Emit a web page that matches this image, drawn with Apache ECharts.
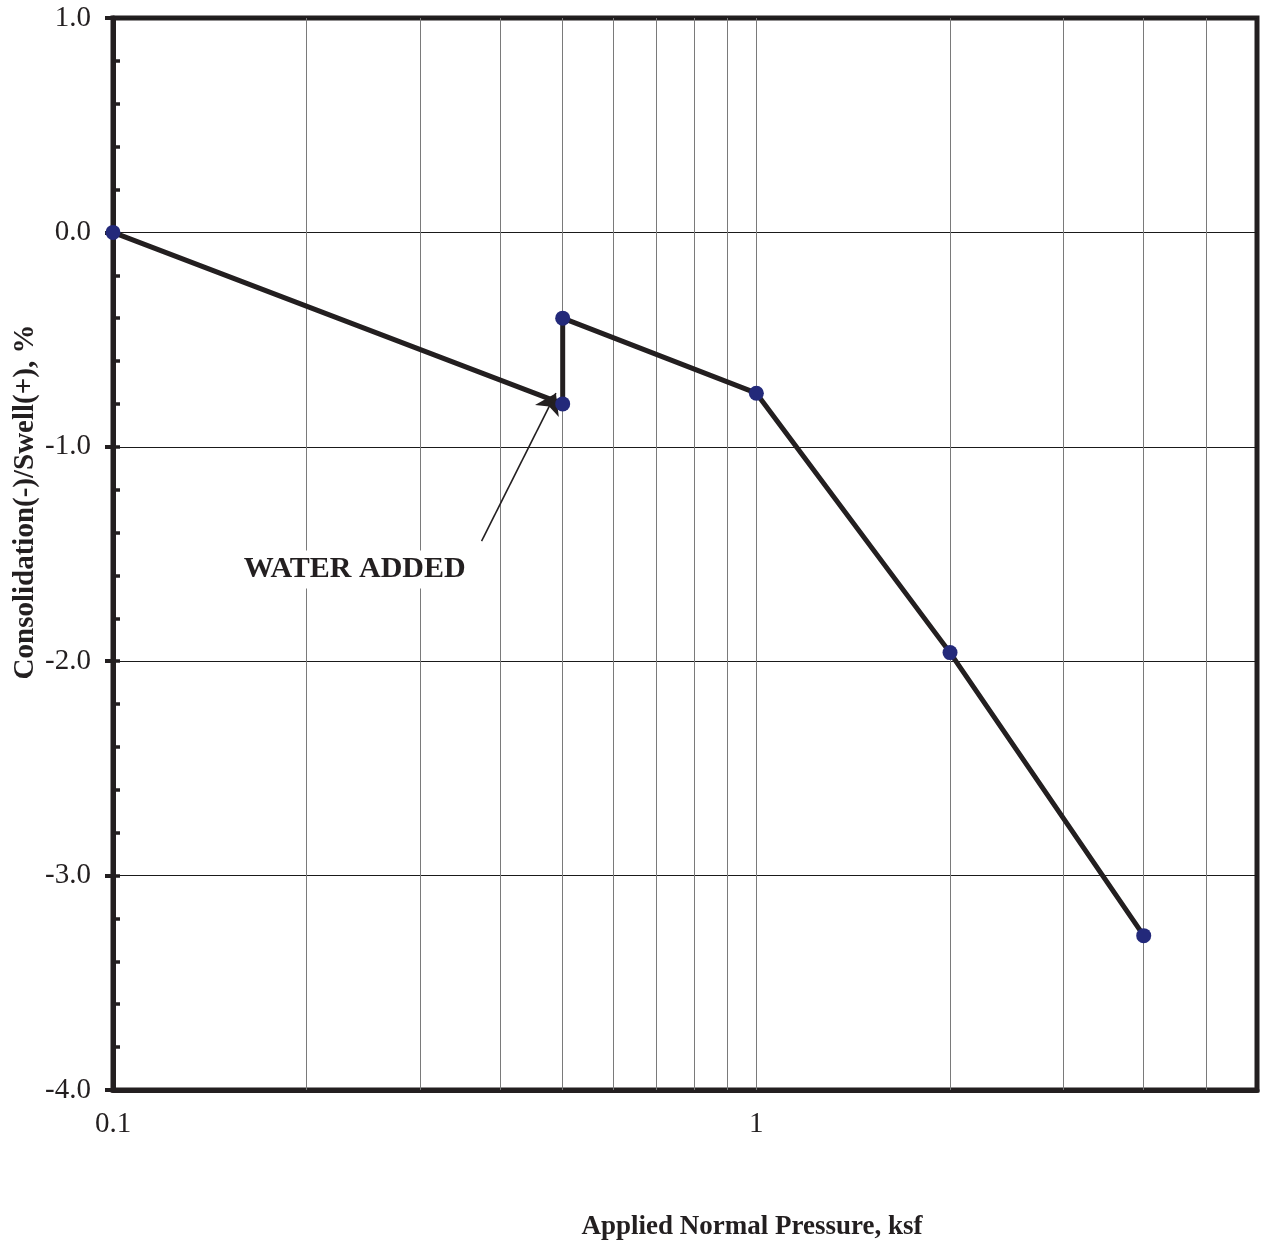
<!DOCTYPE html>
<html>
<head>
<meta charset="utf-8">
<script src="https://cdn.jsdelivr.net/npm/echarts@6/dist/echarts.min.js"></script>
<style>
  html, body { margin: 0; padding: 0; background: #fff; }
  #chart { width: 1262px; height: 1245px; }
</style>
</head>
<body>
<div id="chart"></div>
<script>
// Consolidation / swell test: applied pressure (ksf) vs. strain (%)
const pressure = [0.1, 0.5, 0.5, 1, 2, 4];
const strain = [0, -0.8, -0.4, -0.75, -1.96, -3.28];

// Log-scale grid lines between the labelled decades
const xGridValues = [0.2, 0.3, 0.4, 0.5, 0.6, 0.7, 0.8, 0.9, 1, 2, 3, 4, 5];
const xTickLabels = [0.1, 1];

// "Water added" note and its leader arrow (data units)
const noteText = 'WATER ADDED';
const notePos = [0.2375, -1.572];
const arrowFrom = [0.374, -1.44];
const arrowTo = [0.488, -0.75];

const ink = '#231f20';
const serif = '"Liberation Serif", "Times New Roman", serif';

const chart = echarts.init(document.getElementById('chart'), null, { renderer: 'canvas' });

chart.setOption({
  backgroundColor: '#ffffff',
  animation: false,
  grid: {
    left: 113, right: 5, top: 18, bottom: 155,
    show: true, borderColor: ink, borderWidth: 5, backgroundColor: 'transparent'
  },
  xAxis: {
    type: 'log', logBase: 10, min: 0.1, max: 6,
    axisLine: { show: true, onZero: false, lineStyle: { color: ink, width: 5 } },
    axisTick: { show: false },
    splitLine: { show: false },
    axisLabel: {
      margin: 20, color: ink, fontFamily: serif, fontSize: 29,
      formatter: v => {
        const hit = xTickLabels.find(t => Math.abs(t - v) < 1e-9);
        return hit === undefined ? '' : String(hit);
      }
    }
  },
  yAxis: [
    {
      type: 'value', min: -4, max: 1, interval: 1,
      axisLine: { show: true, lineStyle: { color: ink, width: 5 } },
      axisTick: { show: true, inside: false, length: 8, lineStyle: { color: ink, width: 4 } },
      splitLine: { show: true, lineStyle: { color: '#1a1a1a', width: 1 } },
      axisLabel: {
        margin: 22, color: ink, fontFamily: serif, fontSize: 29,
        formatter: v => v.toFixed(1)
      }
    },
    {
      // inner minor ticks every 0.2 %
      type: 'value', min: -4, max: 1, interval: 0.2, position: 'left',
      axisLine: { show: false },
      axisTick: { show: true, inside: true, length: 7, lineStyle: { color: ink, width: 3.5 } },
      splitLine: { show: false },
      axisLabel: { show: false }
    }
  ],
  graphic: [
    {
      type: 'text', x: 26, y: 502, rotation: Math.PI / 2,
      style: {
        text: 'Consolidation(-)/Swell(+), %',
        font: 'bold 29px ' + serif, fill: ink,
        align: 'center', verticalAlign: 'middle'
      }
    },
    {
      type: 'text', x: 752, y: 1227,
      style: {
        text: 'Applied Normal Pressure, ksf',
        font: 'bold 27px ' + serif, fill: ink,
        align: 'center', verticalAlign: 'middle'
      }
    }
  ],
  series: [
    {
      // vertical grid lines of the log axis
      type: 'line', data: [], z: 1, silent: true,
      markLine: {
        silent: true, symbol: 'none', animation: false,
        label: { show: false },
        lineStyle: { color: '#7a7a7a', width: 1, type: 'solid' },
        data: xGridValues.map(v => ({ xAxis: v }))
      }
    },
    {
      type: 'line', z: 5,
      data: pressure.map((p, i) => [p, strain[i]]),
      lineStyle: { color: ink, width: 5 },
      symbol: 'circle', symbolSize: 15,
      itemStyle: { color: '#23297a' },
      markLine: {
        silent: true, animation: false,
        symbol: ['none', 'arrow'], symbolSize: 20,
        label: { show: false },
        lineStyle: { color: ink, width: 1.6, type: 'solid' },
        data: [[{ coord: arrowFrom }, { coord: arrowTo }]]
      },
      markPoint: {
        silent: true, animation: false,
        symbol: 'rect', symbolSize: 0,
        data: [{
          coord: notePos,
          label: {
            show: true, position: 'inside', formatter: noteText,
            color: ink, fontFamily: serif, fontWeight: 'bold', fontSize: 30,
            backgroundColor: '#ffffff', padding: [4, 2]
          }
        }]
      }
    }
  ]
});
</script>
</body>
</html>
